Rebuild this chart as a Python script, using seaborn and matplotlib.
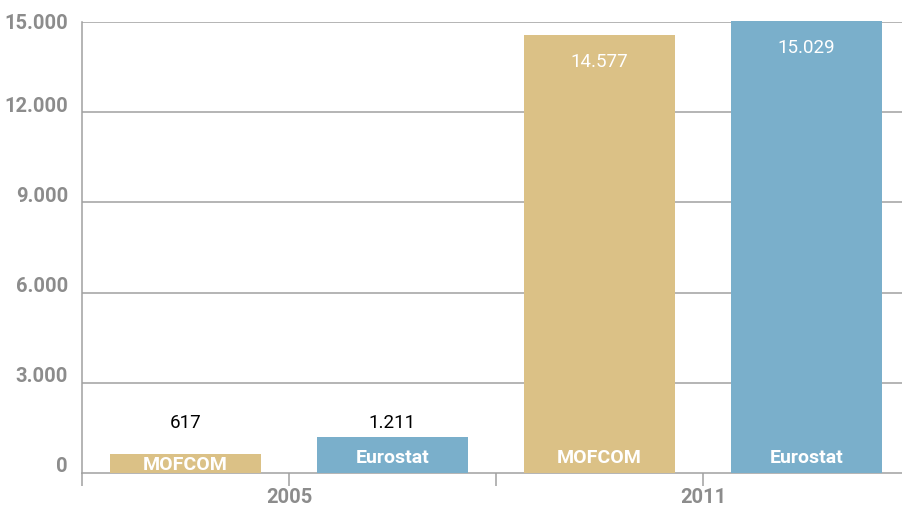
import matplotlib
matplotlib.use("Agg")
import matplotlib.pyplot as plt
import matplotlib.transforms as mtransforms
import seaborn as sns
import pandas as pd

years = ["2005", "2011"]
sources = ["MOFCOM", "Eurostat"]
mofcom = [617, 14577]
eurostat = [1211, 15029]
value_labels_mofcom = ["617", "14.577"]
value_labels_eurostat = ["1.211", "15.029"]
y_ticks = [0, 3000, 6000, 9000, 12000, 15000]
y_tick_labels = ["0", "3.000", "6.000", "9.000", "12.000", "15.000"]

colors = {"MOFCOM": "#DBC186", "Eurostat": "#7AAFCB"}

df = pd.DataFrame({
    "year": years * 2,
    "source": ["MOFCOM"] * 2 + ["Eurostat"] * 2,
    "value": mofcom + eurostat,
    "label": value_labels_mofcom + value_labels_eurostat,
})

sns.set_style("white")
plt.rcParams["font.family"] = ["Roboto", "DejaVu Sans"]

W, H = 903, 508
fig = plt.figure(figsize=(W / 100, H / 100), dpi=100)
ax = fig.add_axes([82 / W, 35 / H, 821 / W, (473 - 22) / H])

sns.barplot(data=df, x="year", y="value", hue="source", order=years,
            hue_order=sources, palette=colors, width=1.0, gap=0.275,
            saturation=1, ax=ax, legend=False, zorder=3)

for p in ax.patches:
    p.set_clip_on(False)
    p.set_linewidth(0)

grid_c = "#A0A0A0"
ax.set_yticks(y_ticks)
ax.set_yticklabels(y_tick_labels)
for v in y_ticks[1:]:
    ax.axhline(v, color=grid_c, lw=1.1, zorder=1)

ax.tick_params(axis="y", length=0, pad=10, labelsize=14.5, labelcolor="#8C8C8C")
shift = mtransforms.ScaledTranslation(0, 8 / 100, fig.dpi_scale_trans)
ylabs = ax.get_yticklabels()
for k, lab in enumerate(ylabs):
    lab.set_fontweight("bold")
    if k < len(ylabs) - 1:
        lab.set_transform(lab.get_transform() + shift)

ax.set_xticks([-0.5, 0, 0.5, 1, 1.5])
ax.set_xticklabels(["", years[0], "", years[1], ""])
ax.tick_params(axis="x", length=9, width=1.1, color=grid_c, direction="out",
               pad=2, labelsize=14.5, labelcolor="#8C8C8C", bottom=True)
for lab in ax.get_xticklabels():
    lab.set_fontweight("bold")

ax.set_xlim(-0.5, (903 - 82) / 414 - 0.5)
ax.set_ylim(0, 15000)

ax.set_xlabel("")
ax.set_ylabel("")
for s in ["top", "right"]:
    ax.spines[s].set_visible(False)
for s in ["left", "bottom"]:
    ax.spines[s].set_color(grid_c)
    ax.spines[s].set_linewidth(1.1)

# annotate bars
offsets = {"MOFCOM": -0.25, "Eurostat": 0.25}
for i, yr in enumerate(years):
    for src in sources:
        row = df[(df.year == yr) & (df.source == src)].iloc[0]
        x = i + offsets[src]
        v = row.value
        if v < 3000:
            ax.text(x, 1660, row.label, ha="center", va="center",
                    fontsize=13.5, color="black", zorder=5)
        else:
            ax.text(x, v - 900, row.label, ha="center", va="center",
                    fontsize=13.5, color="white", zorder=5)
        ax.text(x, min(500, v * 0.42), src, ha="center", va="center",
                fontsize=14, fontweight="bold", color="white", zorder=5)

fig.savefig("out.png", dpi=100)
